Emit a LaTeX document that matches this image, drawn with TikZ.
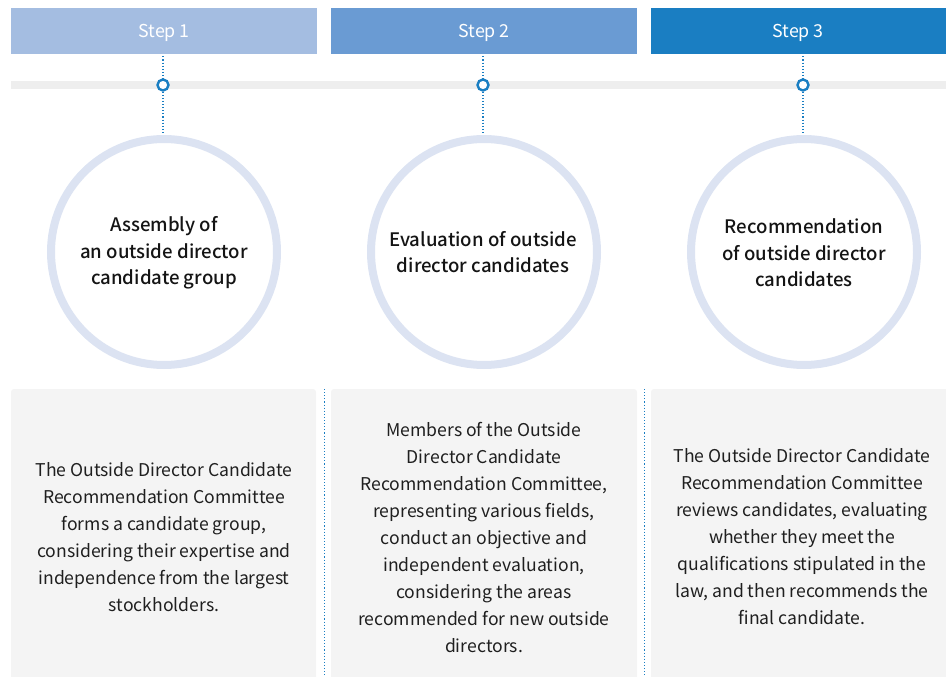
\documentclass[tikz,border=0pt]{standalone}
\usepackage{fontspec}
\setmainfont{Noto Sans CJK KR}[BoldFont={Noto Sans CJK KR Medium}]
\begin{document}
\begin{tikzpicture}[x=1pt,y=-1pt,
  stepbox/.style={minimum width=306pt,minimum height=46pt,inner sep=0pt},
  steplbl/.style={text=white,font=\fontsize{17.8}{20}\selectfont,yshift=-2pt},
  dotline/.style={draw=blue3,line width=1.1pt,dash pattern=on 1.1pt off 2pt},
  knob/.style={circle,draw=blue3,line width=2.4pt,fill=white,minimum size=11pt,inner sep=0pt},
  ring/.style={circle,draw=ringc,line width=8pt,fill=white,minimum size=226pt,inner sep=0pt},
  ttl/.style={align=center,font=\fontsize{18.6}{26.5}\selectfont\bfseries,text=black!92},
  panel/.style={fill=panelc,rounded corners=3pt},
  body/.style={align=center,font=\fontsize{17.6}{27}\selectfont,text=black!88}]
\definecolor{blue1}{HTML}{A4BDE1}
\definecolor{blue2}{HTML}{6A9BD3}
\definecolor{blue3}{HTML}{1A7EC2}
\definecolor{ringc}{HTML}{DCE3F2}
\definecolor{panelc}{HTML}{F4F4F4}
\definecolor{barc}{HTML}{EEEEEE}
\useasboundingbox (0,0) rectangle (946,677);
% header boxes
\node[stepbox,fill=blue1,anchor=north west,label={[steplbl]center:Step 1}] (s1) at (11,8) {};
\node[stepbox,fill=blue2,anchor=north west,label={[steplbl]center:Step 2}] (s2) at (331,8) {};
\node[stepbox,fill=blue3,anchor=north west,minimum width=295pt,label={[steplbl,xshift=-0.5pt]center:Step 3}] (s3) at (651,8) {};
% gray bar
\fill[barc] (11,81) rectangle (946,89);
% knobs
\node[knob] (k1) at (163,85) {};
\node[knob] (k2) at (483,85) {};
\node[knob] (k3) at (803,85) {};
% rings
\node[ring] (c1) at (164,252) {};
\node[ring] (c2) at (484,252) {};
\node[ring] (c3) at (804,252) {};
% dotted connectors
\foreach \i in {1,2,3}{
  \draw[dotline] (k\i.north |- s\i.south) ++(0,2) -- (k\i.north);
  \draw[dotline] (k\i.south) -- (k\i.south |- c\i.north) ;
}
\node[ttl] (t1) at (164,253) {Assembly of\\an outside director\\candidate group};
\node[ttl] (t2) at (483,252) {Evaluation of outside\\director candidates};
\node[ttl] (t3) at (804,253) {Recommendation\\of outside director\\candidates};
% panels
\fill[panel] (11,389) rectangle (316,680);
\fill[panel] (331,389) rectangle (637,680);
\fill[panel] (651,389) rectangle (949,680);
\coordinate (d1a) at (324,389); \coordinate (d1b) at (324,677);
\coordinate (d2a) at (644,389); \coordinate (d2b) at (644,677);
\draw[dotline,line width=1pt] (d1a) -- (d1b);
\draw[dotline,line width=1pt] (d2a) -- (d2b);
\node[body] (b1) at (164,537) {The Outside Director Candidate\\Recommendation Committee\\forms a candidate group,\\considering their expertise and\\independence from the largest\\stockholders.};
\node[body] (b2) at (484,537) {Members of the Outside\\Director Candidate\\Recommendation Committee,\\representing various fields,\\conduct an objective and\\independent evaluation,\\considering the areas\\recommended for new outside\\directors.};
\node[body] (b3) at (802,537) {The Outside Director Candidate\\Recommendation Committee\\reviews candidates, evaluating\\whether they meet the\\qualifications stipulated in the\\law, and then recommends the\\final candidate.};
\end{tikzpicture}
\end{document}
